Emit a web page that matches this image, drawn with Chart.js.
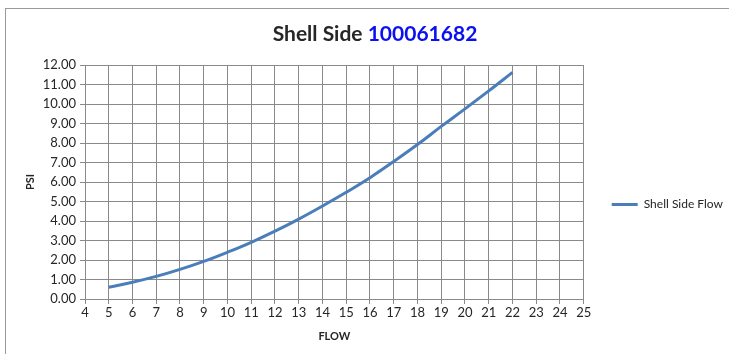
<!DOCTYPE html>
<html>
<head>
<meta charset="utf-8">
<script src="https://cdn.jsdelivr.net/npm/chart.js@4.4.1/dist/chart.umd.min.js"></script>
<style>
  html, body { margin: 0; padding: 0; background: #ffffff; }
  #wrap { position: relative; width: 729px; height: 354px; overflow: hidden; background: #ffffff; }
  #frame { position: absolute; left: 5px; top: 8px; width: 760px; height: 380px; border: 1px solid #9a9a9a; box-sizing: border-box; }
  #title { position: absolute; left: 0; top: 20px; width: 750px; text-align: center;
           font-family: Lato, "Noto Sans", sans-serif; font-weight: bold; font-size: 21px; line-height: 26px; color: #262626; }
  #title .num { color: #0a10f0; }
  canvas { position: absolute; left: 0; top: 0; }
</style>
</head>
<body>
<div id="wrap">
  <div id="frame"></div>
  <canvas id="chart" width="729" height="354"></canvas>
  <div id="title">Shell Side <span class="num">100061682</span></div>
</div>
<script>
// Pressure drop readings on the shell side
const flow = [5, 6, 7, 8, 9, 10, 11, 12, 13, 14, 15, 16, 17, 18, 19, 20, 21, 22];
const psi  = [0.60, 0.86, 1.16, 1.52, 1.93, 2.40, 2.91, 3.48, 4.10, 4.77, 5.47, 6.22, 7.05, 7.92, 8.85, 9.75, 10.67, 11.62];
const seriesName = "Shell Side Flow";
const xTitle = "FLOW";
const yTitle = "PSI";

const FONT = "Lato, 'Noto Sans', sans-serif";
const GRID = "#8a8a8a";

// nudge the legend block a little above the vertical middle
const legendNudge = {
  id: "legendNudge",
  afterLayout(chart) {
    const lg = chart.legend;
    if (lg) { lg.top -= 5; lg.bottom -= 5; }
  }
};

new Chart(document.getElementById("chart"), {
  type: "line",
  data: {
    datasets: [{
      label: seriesName,
      data: flow.map((f, i) => ({ x: f, y: psi[i] })),
      borderColor: "#4a7ebb",
      backgroundColor: "#4a7ebb",
      borderWidth: 3,
      pointRadius: 0,
      pointHoverRadius: 0,
      tension: 0.4,
      fill: false
    }]
  },
  plugins: [legendNudge],
  options: {
    responsive: false,
    animation: false,
    events: [],
    layout: { padding: { top: 65, right: -4, bottom: 0, left: 0 } },
    scales: {
      x: {
        type: "linear",
        min: 4, max: 25,
        afterFit: s => { s.height = 55; },
        ticks: { stepSize: 1, padding: 1, color: "#262626", font: { family: FONT, size: 13 } },
        grid: { color: GRID, tickLength: 5, drawTicks: true },
        border: { color: GRID },
        title: { display: true, text: xTitle, color: "#262626", padding: { top: 0, bottom: 11 },
                 font: { family: FONT, size: 11, weight: "bold" } }
      },
      y: {
        min: 0, max: 12,
        afterFit: s => { s.width = 85; },
        ticks: { stepSize: 1, padding: 4, color: "#262626", font: { family: FONT, size: 13 },
                 callback: v => v.toFixed(2) },
        grid: { color: GRID, tickLength: 5, drawTicks: true },
        border: { color: GRID },
        title: { display: true, text: yTitle, color: "#262626", padding: { top: 24, bottom: 0 },
                 font: { family: FONT, size: 11, weight: "bold" } }
      }
    },
    plugins: {
      title: { display: false },
      tooltip: { enabled: false },
      legend: {
        position: "right",
        labels: {
          usePointStyle: true,
          pointStyle: "line",
          pointStyleWidth: 26,
          boxWidth: 26,
          padding: 28,
          color: "#262626",
          font: { family: FONT, size: 12 }
        }
      }
    }
  }
});
</script>
</body>
</html>
